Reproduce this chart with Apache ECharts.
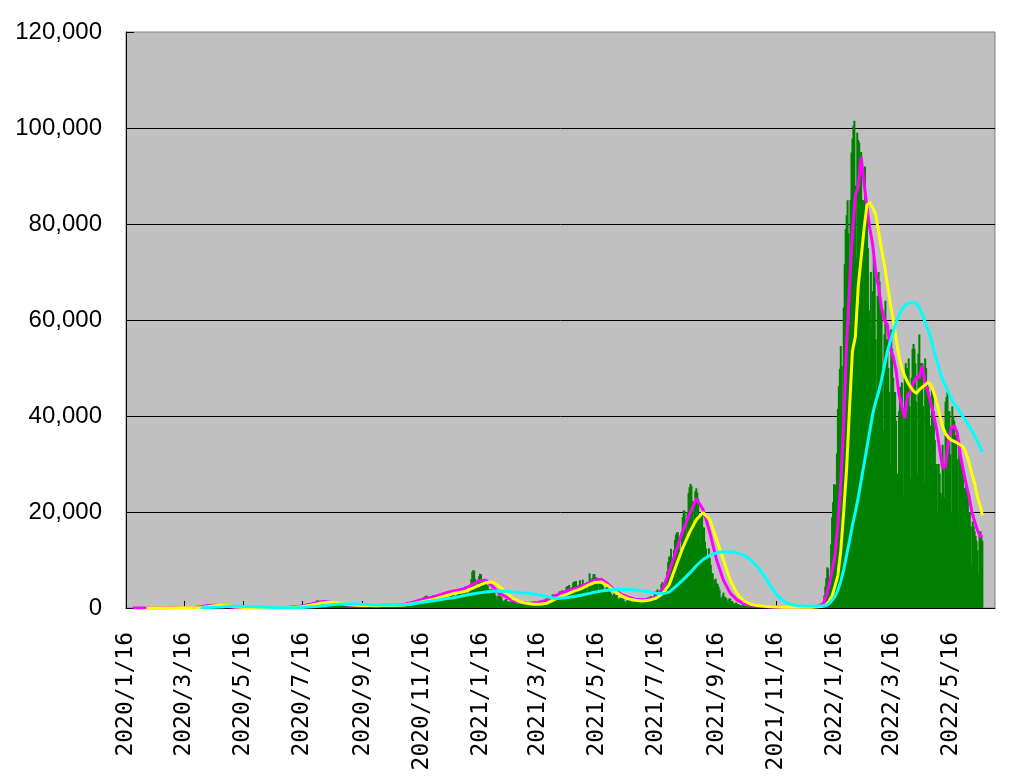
<!DOCTYPE html>
<html><head><meta charset="utf-8">
<script src="https://cdn.jsdelivr.net/npm/echarts@6/dist/echarts.min.js"></script>
<style>html,body{margin:0;padding:0;background:#fff}#c{width:1024px;height:781px}</style>
</head><body><div id="c"></div><script>
// ---- data ----
const START_DATE = '2020-01-16';
const tickLabels = ['2020/1/16','2020/3/16','2020/5/16','2020/7/16','2020/9/16','2020/11/16',
  '2021/1/16','2021/3/16','2021/5/16','2021/7/16','2021/9/16','2021/11/16',
  '2022/1/16','2022/3/16','2022/5/16'];

// daily new cases, one value per day starting 2020-01-16
const cases2020 = [
  1,0,0,0,0,0,0,0,1,1,1,0,3,1,4,3, // Jan 16-31
  2,0,0,2,3,1,0,1,0,2,1,1,3,8,9,6,7,5,10,10,7,14,11,10,14,13,18,20,10, // Feb
  9,15,26,29,34,59,46,32,31,46,57,59,44,52,40,23,44,39,40,35,55,41,40,64,71,96,113,194,173,80,220, // Mar
  266,235,353,367,383,252,351,515,576,708,743,507,390,457,549,482,584,568,376,356,378,435,437,350,313,227,203,284,173,180, // Apr
  264,291,210,170,121,88,91,111,112,85,53,88,66,56,99,60,33,38,28,33,41,27,26,14,22,30,38,68,55,54,36, // May
  42,31,40,52,44,40,40,33,42,37,42,48,41,74,49,72,41,50,71,57,58,58,57,39,70,72,101,93,59,107, // Jun
  124,135,250,274,208,166,204,222,355,430,392,255,262,332,448,625,590,662,509,420,630,788,981,774,852,834,600,980,1264,1301,1580, // Jul
  1536,1331,960,1237,1356,1597,1605,1565,1442,1219,691,966,1178,1359,1233,1063,780,941,1093,1182,1011,1120,897,621,676,843,872,851,722,656,430, // Aug
  587,625,566,507,568,435,369,468,629,692,651,605,438,386,555,585,490,595,597,464,337,214,360,477,568,641,427,330,570,613, // Sep
  630,545,504,561,378,565,554,613,614,588,468,245,446,561,686,636,618,420,445,483,582,594,701,754,525,365,486,648,775,788,867, // Oct
  620,476,880,658,1047,1137,1325,1225,912,1271,1543,1661,1704,1737,1439,951,1697,2201,2387,2425,2596,2168,1517,1224,1935,2504,2508,2688,2049,1433, // Nov
  2031,2432,2518,2441,2509,2029,1502,2047,2800,2971,2787,3041,2394,1679,2401,3018,3212,2993,2893,2505,1784,2646,3263,3744,3832,3881,2948,2385,3599,3844,4519 // Dec
];
const cases2021 = [
  3246,3049,3138,3324,4911,6000,7574,7882,7790,6094,4869,4526,5867,6605,7133,7033,5760,4925,5326,5546,5655,4714,4724,3969,2764,3853,3958,3536,3372,3341,2673, // Jan
  1790,2320,2636,2575,2371,2283,1604,1208,1515,1720,1877,1355,1362,1387,1000,1309,1519,1530,1319,1239,1079,741,900,1107,1077,1040,990,949, // Feb
  710,944,1248,1177,1150,1128,1056,603,1126,1323,1300,1327,1326,1101,774,1149,1510,1497,1472,1471,1126,811,1518,1919,1947,2036,2079,1785,1308,2087,2843, // Mar
  2600,2770,2791,2471,1587,2631,3447,3443,3471,3700,2779,2088,3442,4314,4568,4556,4797,4090,2683,4337,5282,5504,5120,5609,4603,3315,4827,5789,4669,4679, // Apr
  5900,4273,4308,4120,4229,3017,4877,7235,6051,4721,6233,7039,7058,6312,6419,5238,3680,5212,5680,5802,5234,4500,3923,2818,4121,4454,4080,3662,3380,3014,1772, // May
  2644,2998,2755,2613,2715,2041,1331,1945,2122,2015,1932,1942,1387,949,1406,1739,1703,1643,1613,1316,1004,1408,1737,1799,1747,1651,1528,1083,1534,1794, // Jun
  1756,1849,1928,1552,1017,1660,2192,2190,2288,2479,1984,1502,2383,3191,3420,3433,3881,3098,2328,3751,4935,5390,4225,3976,4689,4688,7621,9576,10694,10744,12340, // Jul
  10165,8400,12017,14207,15263,15750,15753,14473,12101,10285,15812,18889,20366,20151,17452,14398,19956,23917,25146,25868,25492,22266,16821,21570,24317,24942,24079,22748,19295,13614,19813, // Aug
  20030,16765,16752,13837,12396,7460,10347,12411,10395,9004,7221,7209,4166,5824,6122,5094,5053,4438,3802,2215,1770,2610,3215,2418,2225,2042,1147,1625,1979,1986, // Sep
  1445,1448,1110,605,923,1131,896,808,742,625,374,567,688,619,508,474,431,233,372,389,343,324,286,269,152,301,307,267,242,242,174, // Oct
  86,210,154,162,212,209,161,107,188,219,208,178,223,147,78,147,149,171,126,158,102,50,77,101,102,101,139,112,70,80, // Nov
  126,120,117,132,103,61,105,130,142,125,137,113,81,138,167,176,155,196,160,111,171,254,263,304,363,287,249,373,415,451,502 // Dec
];
const cases2022 = [
  534,553,783,1265,2636,4475,6214,8476,8249,6438,6384,13243,18854,22045,25804,25664,20660,32163,41485,46197,49854,54576,50446,39536,62612,71634,78930,81810,84936,78079,59098, // Jan
  85000,94900,97800,100500,101500,88000,73000,99000,97500,97000,89500,95000,85000,60000,85000,92000,85000,82000,75000,62000,52000,70000,58000,66000,73000,69000,56000,44000, // Feb
  65000,70000,68000,63000,62000,50000,37000,57000,64000,56000,56000,50000,45000,30000,58000,54000,48000,45000,45000,39000,28000,21000,41000,46000,46000,47000,41000,23000,48000,51000,50000, // Mar
  50000,52000,42000,27000,48000,54000,55000,54000,51000,43000,28000,53000,57000,51000,51000,51000,42000,26000,52000,50000,47000,46000,45000,38000,24000,46000,45000,41000,35000,30000, // Apr
  30000,20000,30000,28000,24000,23000,34000,30000,23000,43000,44000,45000,41000,41000,32000,20000,42000,40000,39000,36000,36000,31000,17000,35000,33000,31000,30000,28000,25000,14000,26000, // May
  24000,23000,20000,20000,17000,9000,18000,17000,16000,15000,14000,12000,7000,15000,16000,15000,14000 // Jun 1-17
];

// averaged lines: weekly points from 2020-01-16 to 2021-12-30, then every 3 days from 2022-01-01, last 2022-06-17
const weeklyStart = '2020-01-16', weeklyCount = 103;
const start2022 = '2022-01-01', step2022 = 3, count2022 = 56, lastDate = '2022-06-17';

const magentaWeekly = [null,5,10,5,10,20,25,40,50,45, 110,250,480,550,420,250,120,60,30,30,
  40,45,55,85,150,280,480,720,1050,1350, 1230,950,720,560,530,500,470,510,560,560,
  580,800,1100,1550,1900,2250,2600,3100,3500,3750, 4050,4900,5700,5800,4500,3000,2300,1550,1200,1050,
  970,1200,1700,2400,3000,3600,4000,4500,5150,5800, 6000,5000,3700,2800,2250,1850,1700,1750,2300,3800,
  7500,11800,16000,19500,22800,20500,15700,10000,5800,3100, 1700,900,600,350,250,200,170,130,120,120,
  150,230,400];
const magenta2022 = [400,900,2500,4800,7700,11000,17500,26000,39000,55000, 67000,78000,86000,87800,94000,88500,83500,79000,75500,70000,
  66900,62500,60000,59000,54000,52500,49500,44500,42000,39500, 44500,45000,47000,48000,48000,50500,46800,45000,42500,40000,
  37000,33000,29200,29500,35000,37500,38000,36500,32200,29000, 26000,23500,20200,18000,16200,14800,15200];

const yellowWeekly = [null,null,null,5,5,10,20,25,40,50, 60,100,250,450,520,400,250,130,60,35,
  35,40,45,60,90,170,320,520,800,1080, 1200,1120,880,680,580,530,500,490,520,540,
  560,640,850,1100,1400,1700,2100,2500,2900,3200, 3500,4100,4700,5300,5400,4500,3200,2000,1300,970,
  800,760,1000,1700,2400,2900,3500,4000,4700,5300, 5400,4600,3500,2500,1900,1600,1450,1600,2000,2900,
  4800,8700,12500,15700,18400,19900,18400,14200,10000,5800, 3000,1500,800,500,350,250,200,170,150,140,
  140,170,250];
const yellow2022 = [250,400,700,1500,2500,4500,6800,12000,20000,29000, 41500,53500,56500,67000,73000,79000,84000,84500,83300,82000,
  78400,74800,71500,67500,63500,60000,56000,52500,50000,48300, 47000,46000,45200,44700,45500,46000,46500,47000,46500,44800,
  42800,40200,37800,36300,35500,35000,34700,34400,34000,33600, 32300,30500,28000,26000,23000,21000,19300];

const cyanWeekly = [null,null,null,null,null,null,null,null,null,null, null,30,80,150,220,300,340,350,330,280,
  230,160,100,60,55,70,120,200,330,480, 640,780,850,850,820,760,700,650,620,600,
  600,700,850,1050,1250,1450,1650,1900,2100,2350, 2650,2900,3150,3350,3500,3550,3500,3350,3250,3100,
  2900,2700,2400,2050,2050,2200,2400,2650,2950,3300, 3550,3700,3850,3900,3850,3750,3600,3400,3100,2950,
  3300,4500,5800,7200,8800,10100,11000,11500,11700,11700, 11500,11000,10000,8600,6700,4400,2500,1300,700,480,
  400,380,400];
const cyan2022 = [400,400,550,900,1600,2400,3700,5600,8000,11000, 14000,17200,20000,23000,26500,30000,33500,37000,40500,43000,
  45000,47500,50500,53500,55500,57500,59500,61000,62200,63000, 63400,63600,63600,63400,62600,61200,59500,58000,56000,53500,
  51500,49500,47500,46300,45000,43500,42500,41800,40800,39800, 39000,38000,37000,35800,34700,33300,32500];

// ---- helpers ----
const DAY = 864e5;
function dayIndex(s){const p=s.split(/[-\/]/).map(Number);return Math.round((Date.UTC(p[0],p[1]-1,p[2])-Date.UTC(2020,0,16))/DAY);}
function dayLabel(i){const d=new Date(Date.UTC(2020,0,16)+Math.round(i)*DAY);return d.getUTCFullYear()+'/'+(d.getUTCMonth()+1)+'/'+d.getUTCDate();}

const daily = cases2020.concat(cases2021, cases2022);
const d0 = dayIndex(START_DATE);
const barData = daily.map((v,i)=>[d0+i, v]);

const lineDays = [];
for (let k=0;k<weeklyCount;k++) lineDays.push(dayIndex(weeklyStart)+7*k);
for (let j=0;j<count2022;j++) lineDays.push(dayIndex(start2022)+step2022*j);
lineDays.push(dayIndex(lastDate));
function pairs(vals){const out=[];vals.forEach((v,i)=>{if(v!=null)out.push([lineDays[i],v]);});return out;}

const tickDays = tickLabels.map(dayIndex);

const chart = echarts.init(document.getElementById('c'));
chart.setOption({
  animation:false,
  backgroundColor:'#ffffff',
  grid:{left:126,top:32,width:869,height:576,show:true,backgroundColor:'#C0C0C0',borderColor:'#808080',borderWidth:1},
  xAxis:{type:'value',min:0,max:896,
    axisLine:{show:true,lineStyle:{color:'#000',width:1}},
    axisTick:{show:true,inside:true,length:7,customValues:tickDays,lineStyle:{color:'#000',width:1}},
    axisLabel:{customValues:tickDays,rotate:90,margin:24,formatter:v=>dayLabel(v),
      fontFamily:'DejaVu Sans Mono',fontSize:23,color:'#000'},
    splitLine:{show:false}},
  yAxis:{type:'value',min:0,max:120000,interval:20000,
    axisLine:{show:true,lineStyle:{color:'#000',width:1}},
    axisTick:{show:true,inside:true,length:8,lineStyle:{color:'#000'}},
    axisLabel:{margin:24,formatter:v=>v.toLocaleString('en-US'),fontFamily:'Liberation Sans, Arial, sans-serif',fontSize:24,color:'#000'},
    splitLine:{show:true,showMaxLine:false,lineStyle:{color:'#000',width:1}}},
  series:[
    {type:'bar',data:barData,barWidth:2,itemStyle:{color:'#008000'},silent:true},
    {type:'line',data:pairs(magentaWeekly.concat(magenta2022)),symbol:'none',lineStyle:{color:'#FF00FF',width:3},itemStyle:{color:'#FF00FF'},silent:true},
    {type:'line',data:pairs(yellowWeekly.concat(yellow2022)),symbol:'none',lineStyle:{color:'#FFFF00',width:3},itemStyle:{color:'#FFFF00'},silent:true},
    {type:'line',data:pairs(cyanWeekly.concat(cyan2022)),symbol:'none',lineStyle:{color:'#00FFFF',width:3},itemStyle:{color:'#00FFFF'},silent:true}
  ]
});
</script></body></html>
